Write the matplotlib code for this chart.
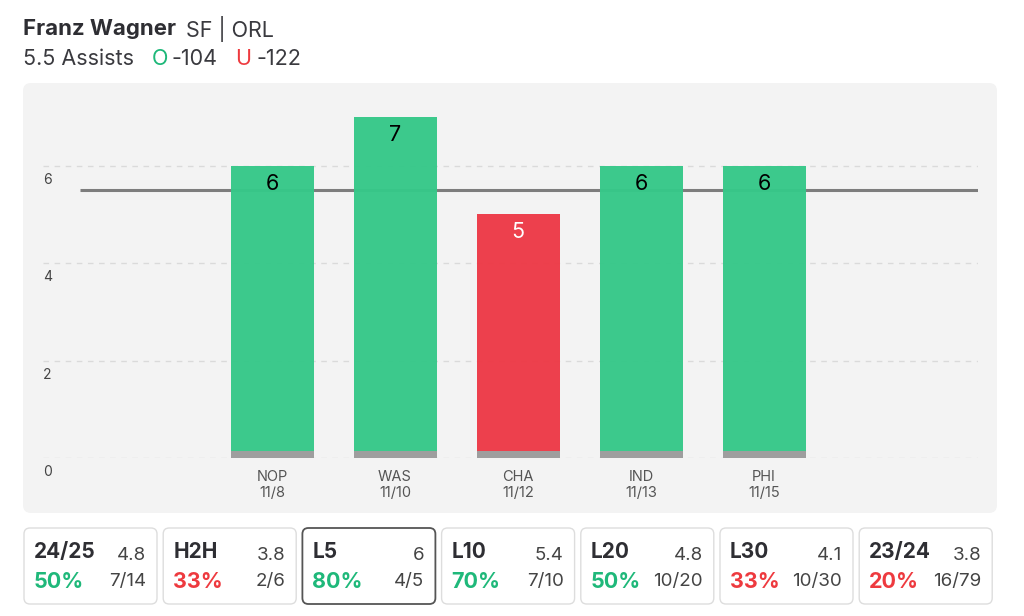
import matplotlib
matplotlib.use("Agg")
import matplotlib.pyplot as plt
from matplotlib.patches import FancyBboxPatch

plt.rcParams['font.family'] = ['Inter', 'DejaVu Sans']

# ---- data ----
player = "Franz Wagner"
pos_team = "SF | ORL"
prop_label = "5.5 Assists"
over_odds = "-104"
under_odds = "-122"
line_value = 5.5

opponents = ["NOP", "WAS", "CHA", "IND", "PHI"]
dates = ["11/8", "11/10", "11/12", "11/13", "11/15"]
assists = [6, 7, 5, 6, 6]
yticks = [0, 2, 4, 6]

card_labels = ["24/25", "H2H", "L5", "L10", "L20", "L30", "23/24"]
card_avgs = ["4.8", "3.8", "6", "5.4", "4.8", "4.1", "3.8"]
card_pcts = [50, 33, 80, 70, 50, 33, 20]
card_fracs = ["7/14", "2/6", "4/5", "7/10", "10/20", "10/30", "16/79"]
card_selected = "L5"

GREEN = "#36c889"
RED = "#ed3a47"
TXT_GREEN = "#1fb87a"
TXT_RED = "#ee3a3f"
DARK = "#2e2e33"

W, H = 1024, 616
fig = plt.figure(figsize=(W / 100, H / 100), dpi=100)
fig.patch.set_facecolor("white")

# overlay axes in pixel coordinates (for panel, header, cards)
ov = fig.add_axes([0, 0, 1, 1], zorder=0)
ov.set_xlim(0, W)
ov.set_ylim(H, 0)
ov.axis("off")

# chart panel
ov.add_patch(FancyBboxPatch((23, 83), 974, 430, boxstyle="round,pad=0,rounding_size=8",
                            facecolor="#f3f3f3", edgecolor="none"))

# header
t1 = ov.text(23, 29, player, fontsize=16, fontweight="bold", color=DARK, va="center", ha="left")
ov.annotate(pos_team, xy=(1, 0.5), xycoords=t1, xytext=(7, 0), textcoords="offset points",
            fontsize=15.5, color="#3a3a3f", va="center", ha="left")
t2 = ov.text(23, 59, prop_label, fontsize=15.5, color="#3a3a3f", va="center", ha="left")
t3 = ov.annotate("O", xy=(1, 0.5), xycoords=t2, xytext=(13, 0), textcoords="offset points",
                 fontsize=15.5, color=TXT_GREEN, va="center", ha="left")
t4 = ov.annotate(over_odds, xy=(1, 0.5), xycoords=t3, xytext=(2, 0), textcoords="offset points",
                 fontsize=15.5, color="#3a3a3f", va="center", ha="left")
t5 = ov.annotate("U", xy=(1, 0.5), xycoords=t4, xytext=(13, 0), textcoords="offset points",
                 fontsize=15.5, color=TXT_RED, va="center", ha="left")
ov.annotate(under_odds, xy=(1, 0.5), xycoords=t5, xytext=(4, 0), textcoords="offset points",
            fontsize=15.5, color="#3a3a3f", va="center", ha="left")

# cards
card_w, card_h, card_y = 133, 76, 528
card_step = 139.2
for i, (lab, avg, pct, frac) in enumerate(zip(card_labels, card_avgs, card_pcts, card_fracs)):
    x0 = 24 + i * card_step
    sel = lab == card_selected
    ov.add_patch(FancyBboxPatch((x0, card_y), card_w, card_h,
                                boxstyle="round,pad=0,rounding_size=6",
                                facecolor="white",
                                edgecolor="#555555" if sel else "#dddddd",
                                linewidth=1.3 if sel else 1.0))
    ov.text(x0 + 10, 552, lab, fontsize=15, fontweight="bold", color=DARK, va="center", ha="left")
    ov.text(x0 + card_w - 11, 556, avg, fontsize=13.5, color="#444444", va="center", ha="right")
    ov.text(x0 + 10, 582, f"{pct}%", fontsize=15.5, fontweight="bold",
            color=TXT_GREEN if pct >= 50 else TXT_RED, va="center", ha="left")
    ov.text(x0 + card_w - 11, 582, frac, fontsize=13.5, color="#444444", va="center", ha="right")

# ---- main chart axes ----
px_left, px_right = 43, 978
px_zero, px_top = 458, 100
unit_px = 48.7
step_px = 123.0
x0_px = 272.0
ax = fig.add_axes([px_left / W, (H - px_zero) / H, (px_right - px_left) / W, (px_zero - px_top) / H],
                  zorder=1)
ax.patch.set_alpha(0)
ax.set_ylim(0, (px_zero - px_top) / unit_px)
ax.set_xlim((px_left - x0_px) / step_px, (px_right - x0_px) / step_px)
for s in ax.spines.values():
    s.set_visible(False)

xs = list(range(len(opponents)))
# grid
for v in yticks:
    ax.axhline(v, color="#dadada", lw=1, dashes=(4, 4), zorder=1)
    ax.annotate(str(v), xy=(0, v), xycoords=("axes fraction", "data"), xytext=(0, -14),
                textcoords="offset pixels", fontsize=10, color="#444444", va="center", ha="left")
ax.set_yticks([])

# threshold line
line_start = (80 - x0_px) / step_px
ax.hlines(line_value, line_start, ax.get_xlim()[1], color="#7d7d7d", lw=2.2, zorder=2)

colors = [GREEN if v > line_value else RED for v in assists]
ax.bar(xs, assists, width=83 / step_px, color=colors, alpha=0.97, zorder=3)
ax.bar(xs, [0.14] * len(xs), width=83 / step_px, color="#9e9e9e", zorder=4)

for x, v, c in zip(xs, assists, colors):
    ax.annotate(str(v), xy=(x, v), xytext=(0, -18), textcoords="offset pixels",
                ha="center", va="center", fontsize=15.5,
                color="black" if c == GREEN else "white", zorder=5)

ax.set_xticks(xs)
ax.set_xticklabels([f"{o}\n{d}" for o, d in zip(opponents, dates)], fontsize=10.5,
                   color="#555555", linespacing=1.2)
ax.tick_params(axis="x", length=0, pad=8.5)

fig.savefig("out.png", dpi=100, facecolor="white")
